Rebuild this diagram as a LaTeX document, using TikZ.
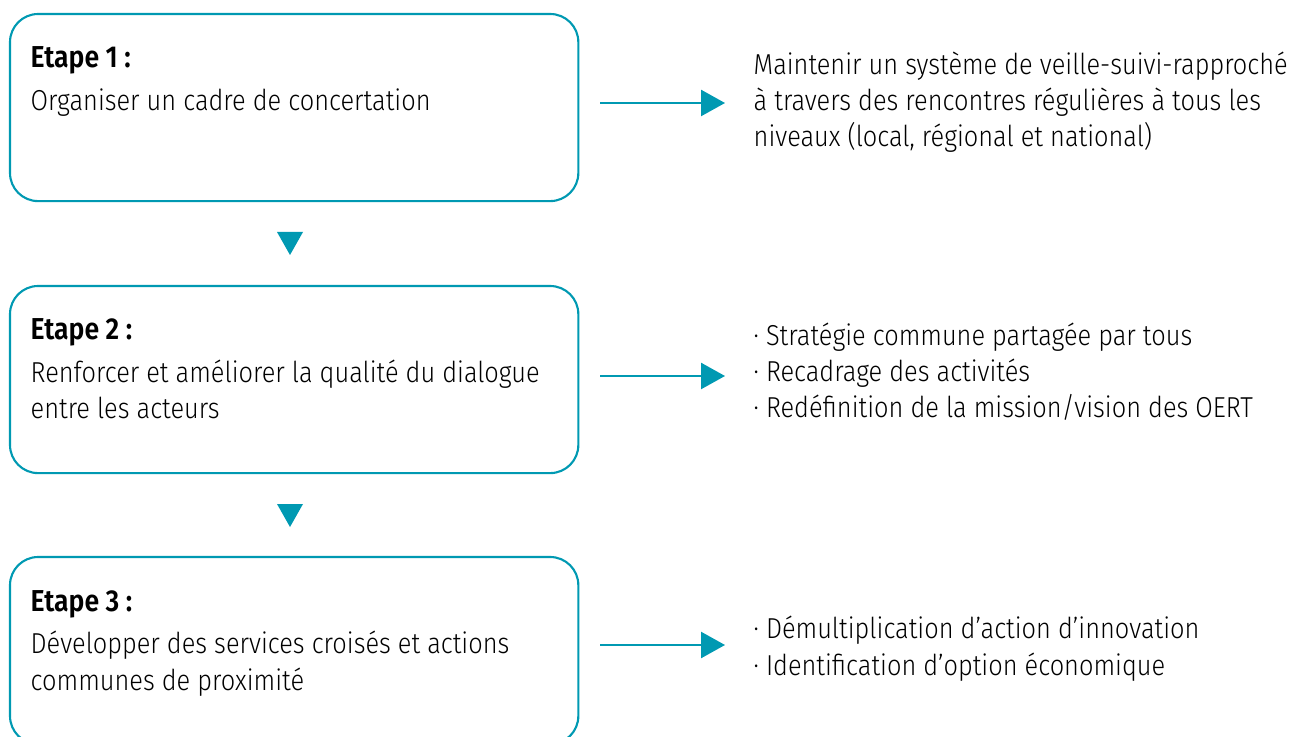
\documentclass[tikz,border=0pt]{standalone}
\usepackage{fontspec}
\setmainfont{Fira Sans}[UprightFont=* Light, BoldFont=* SemiBold, FakeStretch=0.88]
\usetikzlibrary{arrows.meta,calc}
\definecolor{oertblue}{RGB}{0,153,178}

\begin{document}
\begin{tikzpicture}[x=0.01cm, y=-0.01cm, >={Triangle[length=6.8pt,width=7.4pt]}]
  % styles
  \tikzset{
    etape/.style={draw=oertblue, line width=0.6pt, rounded corners=8pt,
      minimum width=5.68cm, minimum height=1.87cm, inner sep=0pt, outer sep=0pt},
    txt/.style={inner sep=0pt, align=left, font=\fontsize{8.2}{10.24}\selectfont},
    titre/.style={txt, font=\fontsize{8.6}{10.24}\selectfont\bfseries},
    fleche/.style={->, draw=oertblue, fill=oertblue, line width=0.6pt}
  }
  \useasboundingbox (0,0) rectangle (1300,737);

  % les trois etapes
  \node[etape, anchor=north west] (b1) at (10,14) {};
  \node[etape, anchor=north west] (b2) at (10,286) {};
  \node[etape, anchor=north west] (b3) at (10,557) {};

  % base = ligne du bas
  \node[titre, anchor=base west] (h1) at (30,68) {Etape 1 :};
  \node[txt, anchor=base west] (t1) at (30,111) {Organiser un cadre de concertation};
  \node[titre, anchor=base west] (h2) at (30,340) {Etape 2 :};
  \node[txt, anchor=base west] (t2) at (30,419) {Renforcer et améliorer la qualité du dialogue\\entre les acteurs};
  \node[titre, anchor=base west] (h3) at (30,611) {Etape 3 :};
  \node[txt, anchor=base west] (t3) at (30,690) {Développer des services croisés et actions\\communes de proximité};

  % resultats
  \node[txt, anchor=base west] (r1) at (753,147) {Maintenir un système de veille-suivi-rapproché\\à travers des rencontres régulières à tous les\\niveaux (local, régional et national)};
  \node[txt, anchor=base west] (r2) at (753,418) {· Stratégie commune partagée par tous\\· Recadrage des activités\\· Redéfinition de la mission/vision des OERT};
  \node[txt, anchor=base west] (r3) at (753,675) {· Démultiplication d’action d’innovation\\· Identification d’option économique};

  % fleches
  \coordinate (p1) at (725,103);
  \coordinate (p2) at (725,376);
  \coordinate (p3) at (725,645);
  \foreach \i in {1,2,3}
    \draw[fleche] ($(b\i.east |- p\i)+(22,0)$) -- (p\i);

  % triangles entre les etapes
  \foreach \y in {232,504}
    \fill[oertblue] (277,\y) -- (303,\y) -- (290,\y+23) -- cycle;
\end{tikzpicture}
\end{document}
